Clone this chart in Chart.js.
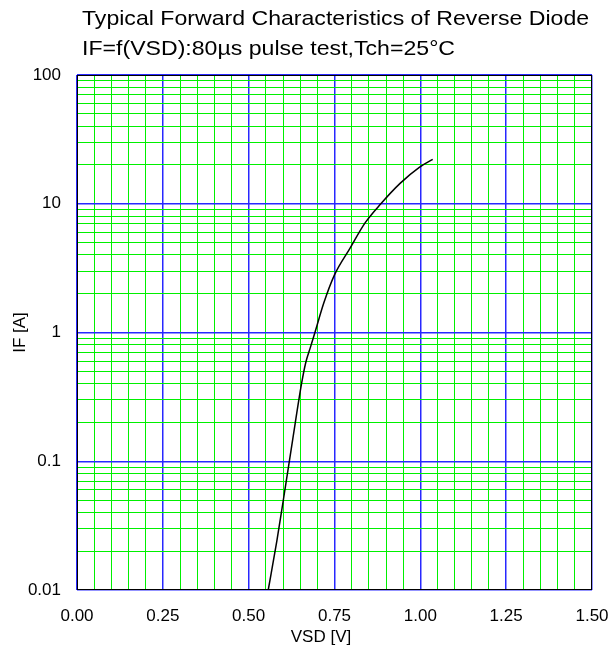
<!DOCTYPE html>
<html>
<head>
<meta charset="utf-8">
<script src="https://cdn.jsdelivr.net/npm/chart.js@4.4.1/dist/chart.umd.min.js"></script>
<style>
  html, body { margin: 0; padding: 0; background: #ffffff; overflow: hidden; }
  #wrap { position: relative; width: 611px; height: 649px; }
  #c { display: block; }
</style>
</head>
<body>
<div id="wrap"><canvas id="c"></canvas></div>
<script>
// ---- data ----
const titleLines = ['Typical Forward Characteristics of Reverse Diode', 'IF=f(VSD):80µs pulse test,Tch=25°C'];
const xAxisTitle = 'VSD [V]';
const yAxisTitle = 'IF [A]';
const vsdValues = [0.557, 0.582, 0.601, 0.628, 0.654, 0.666, 0.680, 0.693, 0.719, 0.750, 0.795, 0.839, 0.885, 0.941, 0.997, 1.036];
const ifValues  = [0.010, 0.024, 0.050, 0.146, 0.40, 0.58, 0.77, 1.00, 1.70, 2.8, 4.5, 7.1, 10.0, 14.4, 19.2, 22.1];
const xMajorTicks = [0.00, 0.25, 0.50, 0.75, 1.00, 1.25, 1.50];
const xMinorStep = 0.05;
const yDecades = [0.01, 0.1, 1, 10, 100];
const yMinorMultipliers = [2, 3, 4, 5, 6, 7, 8, 9];

const FONT = '"Liberation Sans", Arial, Helvetica, sans-serif';
const BLUE = 'rgb(40,40,255)';
const GREEN = 'rgb(0,240,0)';

// grid tick lists built from the tick arrays
const xGrid = [];
for (let i = 0; i < xMajorTicks.length - 1; i++) {
  const a = xMajorTicks[i], b = xMajorTicks[i + 1];
  const n = Math.round((b - a) / xMinorStep);
  for (let k = 0; k < n; k++) xGrid.push(+(a + k * xMinorStep).toFixed(4));
}
xGrid.push(xMajorTicks[xMajorTicks.length - 1]);
const yGrid = [];
yDecades.forEach((d, i) => {
  yGrid.push(d);
  if (i < yDecades.length - 1) yMinorMultipliers.forEach(m => yGrid.push(+(m * d).toPrecision(3)));
});

const isXMajor = v => xMajorTicks.some(t => Math.abs(t - v) < 1e-6);
const isYMajor = v => yDecades.some(t => Math.abs(t - v) / t < 1e-6);

const points = vsdValues.map((v, i) => ({ x: v, y: ifValues[i] }));

const frameAndText = {
  id: 'frameAndText',
  afterDatasetsDraw(chart) {
    const { ctx, chartArea: a } = chart;
    ctx.save();
    ctx.strokeStyle = '#000';
    ctx.lineWidth = 1;
    ctx.strokeRect(Math.round(a.left) + 0.5, Math.round(a.top) + 0.5,
                   Math.round(a.right - a.left) - 1, Math.round(a.bottom - a.top) - 1);
    ctx.restore();
  },
  afterDraw(chart) {
    const { ctx } = chart;
    ctx.save();
    ctx.fillStyle = '#000';
    ctx.textAlign = 'left';
    ctx.textBaseline = 'alphabetic';
    ctx.font = '21px ' + FONT;
    [25, 55].forEach((y, i) => {
      ctx.save();
      ctx.translate(82, y);
      ctx.scale(1.1, 1);
      ctx.fillText(titleLines[i], 0, 0);
      ctx.restore();
    });
    ctx.font = '17px ' + FONT;
    ctx.textAlign = 'center';
    ctx.textBaseline = 'middle';
    ctx.fillText(xAxisTitle, 321, 637);
    ctx.restore();
  }
};

new Chart(document.getElementById('c'), {
  type: 'line',
  data: {
    datasets: [{
      data: points,
      borderColor: '#000000',
      borderWidth: 1.5,
      pointRadius: 0,
      fill: false,
      cubicInterpolationMode: 'monotone'
    }]
  },
  options: {
    responsive: true,
    maintainAspectRatio: false,
    animation: false,
    layout: { padding: { top: 75, right: 19, bottom: 0, left: 0 } },
    plugins: { legend: { display: false }, tooltip: { enabled: false }, title: { display: false } },
    scales: {
      x: {
        type: 'linear',
        min: 0, max: 1.5,
        afterBuildTicks: s => { s.ticks = xGrid.map(v => ({ value: v })); },
        afterFit: s => { s.height = 59; },
        border: { display: false },
        grid: {
          drawTicks: true,
          tickLength: 16,
          tickColor: 'rgba(0,0,0,0)',
          lineWidth: c => (c.tick && isXMajor(c.tick.value)) ? 1.5 : 1,
          color: c => (c.tick && isXMajor(c.tick.value)) ? BLUE : GREEN
        },
        ticks: {
          autoSkip: false,
          maxRotation: 0,
          padding: 0,
          color: '#000',
          font: { family: FONT, size: 17 },
          callback: v => isXMajor(v) ? v.toFixed(2) : ''
        },
        title: { display: false }
      },
      y: {
        type: 'logarithmic',
        min: 0.01, max: 100,
        afterBuildTicks: s => { s.ticks = yGrid.map(v => ({ value: v })); },
        afterFit: s => { s.width = 77; },
        border: { display: false },
        grid: {
          drawTicks: false,
          lineWidth: c => (c.tick && isYMajor(c.tick.value)) ? 1.5 : 1,
          color: c => (c.tick && isYMajor(c.tick.value)) ? BLUE : GREEN
        },
        ticks: {
          autoSkip: false,
          padding: 16,
          color: '#000',
          font: { family: FONT, size: 17 },
          callback: v => isYMajor(v) ? String(v) : ''
        },
        title: {
          display: true,
          text: yAxisTitle,
          color: '#000',
          font: { family: FONT, size: 17 },
          padding: { top: 10, bottom: 0 }
        }
      }
    }
  },
  plugins: [frameAndText]
});
</script>
</body>
</html>
